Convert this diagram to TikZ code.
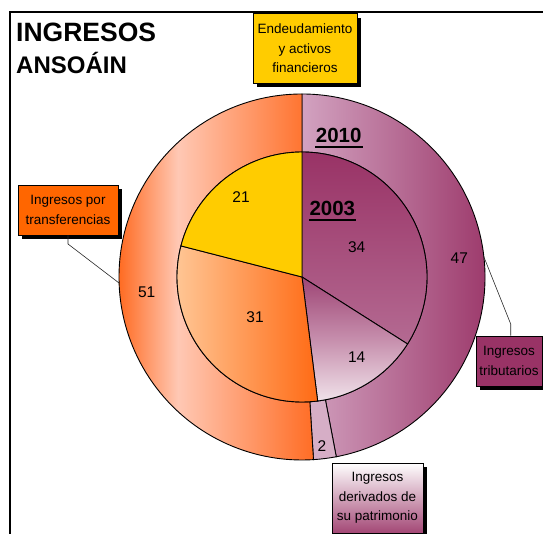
\documentclass[tikz,border=0pt]{standalone}
\usepackage{fontspec}
\setmainfont{Liberation Sans}
\usetikzlibrary{shadows,calc}
\definecolor{plum}{HTML}{993366}
\definecolor{plumL}{HTML}{B46A92}
\definecolor{plumTop}{HTML}{9E4575}
\definecolor{plumPale}{HTML}{F0E2EA}
\definecolor{ringL}{HTML}{D2A2C0}
\definecolor{patTwo}{HTML}{D6AEC6}
\definecolor{org}{HTML}{FF6A20}
\definecolor{orgBox}{HTML}{FF6600}
\definecolor{peach}{HTML}{FFC8B4}
\definecolor{peachIn}{HTML}{FFCA9A}
\definecolor{orgIn}{HTML}{FF6A14}
\definecolor{yel}{HTML}{FFCC00}
\begin{document}
\begin{tikzpicture}[x=1pt,y=1pt,
  slice/.style={draw=black, line width=0.9pt},
  lbl/.style={font=\fontsize{13.5}{19.5}\selectfont, align=center, draw=black,
    line width=0.8pt, inner sep=0pt,
    drop shadow={fill=black, opacity=1, shadow xshift=4pt, shadow yshift=-4pt}},
  num/.style={font=\fontsize{15.5}{18}\selectfont, inner sep=0pt},
  yr/.style={font=\bfseries\fontsize{20.5}{24}\selectfont, inner sep=0pt, anchor=base west},
  ttl/.style={inner sep=0pt, anchor=base west},
  leader/.style={draw=black!85, line width=0.6pt}]
\useasboundingbox (0,0) rectangle (543,534);
\coordinate (C) at (302,257);

% frame
\coordinate (f1) at (10,-2);
\coordinate (f2) at (10,522);
\coordinate (f3) at (546,522);
\draw[line width=1.3pt] (f1) -- (f2) -- (f3);

% title
\node[ttl, font=\bfseries\fontsize{26.5}{30}\selectfont] (t1) at (16,492.3) {INGRESOS};
\node[ttl, font=\bfseries\fontsize{24}{28}\selectfont] (t2) at (16,460) {ANSOÁIN};

% outer ring 2010
\shade[left color=ringL, right color=plum]
  ([shift={(-79.2:183)}]C) arc[start angle=-79.2, end angle=90, radius=183]
  -- ([shift={(90:125)}]C) arc[start angle=90, end angle=-79.2, radius=125] -- cycle;
\draw[slice]
  ([shift={(-79.2:183)}]C) arc[start angle=-79.2, end angle=90, radius=183]
  -- ([shift={(90:125)}]C) arc[start angle=90, end angle=-79.2, radius=125] -- cycle;
\filldraw[slice, fill=patTwo]
  ([shift={(-86.4:183)}]C) arc[start angle=-86.4, end angle=-79.2, radius=183]
  -- ([shift={(-79.2:125)}]C) arc[start angle=-79.2, end angle=-86.4, radius=125] -- cycle;
\begin{scope}
  \clip ([shift={(90:183)}]C) arc[start angle=90, end angle=273.6, radius=183]
  -- ([shift={(273.6:125)}]C) arc[start angle=273.6, end angle=90, radius=125] -- cycle;
  \shade[left color=org, right color=peach] (118,60) rectangle (178,450);
  \shade[left color=peach, right color=org] (178,60) rectangle (318,450);
\end{scope}
\draw[slice] ([shift={(90:183)}]C) arc[start angle=90, end angle=273.6, radius=183]
  -- ([shift={(273.6:125)}]C) arc[start angle=273.6, end angle=90, radius=125] -- cycle;

% inner pie 2003
\shadedraw[slice, top color=plum, bottom color=plumL]
  (C) -- ++(90:125) arc[start angle=90, end angle=-32.4, radius=125] -- cycle;
\shadedraw[slice, top color=plumTop, bottom color=plumPale, middle color=plumL!70!plumPale]
  (C) -- ++(-32.4:125) arc[start angle=-32.4, end angle=-82.8, radius=125] -- cycle;
\shadedraw[slice, left color=peachIn, right color=orgIn]
  (C) -- ++(165.6:125) arc[start angle=165.6, end angle=277.2, radius=125] -- cycle;
\filldraw[slice, fill=yel]
  (C) -- ++(90:125) arc[start angle=90, end angle=165.6, radius=125] -- cycle;

% values
\node[num] (n21) at (241,337.3) {21};
\node[num] (n34) at (356.7,287.3) {34};
\node[num] (n31) at (255,217) {31};
\node[num] (n14) at (356.7,177) {14};
\node[num] (n51) at (146.7,242) {51};
\node[num] (n47) at (459.3,275.7) {47};
\node[num] (n2) at (322,88.3) {2};

% years
\node[yr] (y10) at (315.7,391.7) {2010};
\draw[line width=2pt] ($(y10.base west)+(-0.5,-4.4)$) -- ($(y10.base east)+(1,-4.4)$);
\node[yr] (y03) at (309.3,318) {2003};
\draw[line width=2pt] ($(y03.base west)+(-0.5,-4.4)$) -- ($(y03.base east)+(1,-4.4)$);

% label boxes
\node[lbl, fill=yel, minimum width=104pt, minimum height=69.5pt] (bE) at (305,485.7)
  {Endeudamiento\\y activos\\financieros};
\node[lbl, fill=orgBox, minimum width=100pt, minimum height=50pt] (bT) at (68,324)
  {Ingresos por\\transferencias};
\node[lbl, fill=plum, minimum width=66pt, minimum height=50pt] (bR) at (509,173)
  {Ingresos\\tributarios};
\node[lbl, top color=white, bottom color=plum!90, minimum width=91pt, minimum height=70pt] (bP) at (377.5,36)
  {Ingresos\\derivados de\\su patrimonio};

% leaders
\coordinate (lT1) at (68,290);
\coordinate (lT2) at ([shift={(181.9:183)}]C);
\draw[leader] (bT.south) -- (lT1) -- (lT2);
\coordinate (lR1) at (510.7,210);
\coordinate (lR2) at ([shift={(6.3:183)}]C);
\draw[leader] (bR.north -| lR1) -- (lR1) -- (lR2);
\end{tikzpicture}
\end{document}
